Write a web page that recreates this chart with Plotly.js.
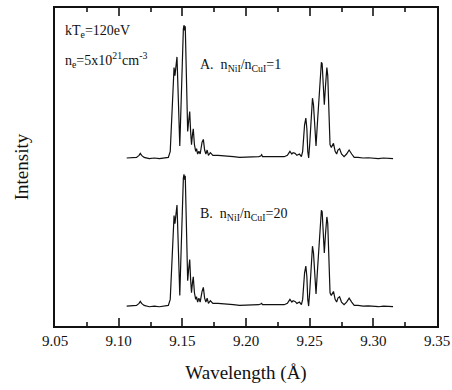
<!DOCTYPE html>
<html>
<head>
<meta charset="utf-8">
<script src="https://cdn.plot.ly/plotly-3.0.1.min.js"></script>
<style>html,body{margin:0;padding:0;background:#fff;}#chart{width:452px;height:390px;}.modebar-container{display:none !important;}</style>
</head>
<body>
<div id="chart"></div>
<script>
// Wavelength (Å) and relative intensity for spectrum A (nNiI/nCuI = 1)
const wlA = [9.1063,9.110,9.114,9.116,9.117,9.118,9.120,9.124,9.128,9.132,9.136,9.139,
 9.1405,9.1415,9.1425,9.1435,9.1442,9.1450,9.1458,9.1465,9.1472,9.1480,9.1490,9.1500,
 9.1508,9.1513,9.1518,9.1523,9.1530,9.1537,9.1542,9.1550,9.1558,9.1565,9.1572,9.1580,
 9.1586,9.1595,9.1605,9.1612,9.1620,9.1630,9.1640,9.1655,9.1665,9.1675,9.1685,9.1695,
 9.1705,9.172,9.174,9.178,9.182,9.186,9.190,9.195,9.200,9.205,9.210,9.2115,9.2123,9.213,
 9.218,9.222,9.226,9.230,9.2325,9.2345,9.2360,9.2370,9.2385,9.2400,9.2420,9.2435,9.2445,
 9.2460,9.2470,9.2478,9.2485,9.2492,9.2500,9.2512,9.2522,9.2530,9.2540,9.2550,9.2560,
 9.2572,9.2582,9.2592,9.2598,9.2606,9.2615,9.2625,9.2635,9.2642,9.2650,9.2660,9.2670,
 9.2687,9.2700,9.2712,9.2722,9.2735,9.2750,9.2770,9.2790,9.2810,9.2830,9.2850,9.288,
 9.292,9.296,9.300,9.304,9.308,9.312,9.3155];
const intA = [0.00,0.00,0.005,0.02,0.035,0.02,0.005,-0.005,0.0,-0.005,0.0,0.005,
 0.05,0.30,0.55,0.68,0.62,0.70,0.76,0.55,0.20,0.09,0.40,0.85,
 0.97,1.00,0.96,0.99,0.75,0.35,0.20,0.28,0.35,0.20,0.10,0.18,
 0.22,0.10,0.05,0.07,0.03,0.05,0.03,0.12,0.14,0.06,0.03,0.06,
 0.02,0.04,0.02,0.02,0.015,0.01,0.01,0.005,0.005,0.01,0.01,0.015,0.025,0.01,
 0.01,0.01,0.01,0.01,0.02,0.05,0.03,0.04,0.035,0.02,0.03,0.01,0.05,
 0.25,0.30,0.22,0.05,0.0,0.10,0.35,0.45,0.40,0.20,0.09,0.25,
 0.45,0.60,0.72,0.71,0.55,0.40,0.55,0.68,0.62,0.35,0.10,0.08,
 0.11,0.05,0.03,0.06,0.07,0.03,0.01,0.03,0.06,0.03,0.005,0.005,
 0.0,0.002,0.0,-0.005,0.0,-0.005,-0.005];

// Spectrum B (nNiI/nCuI = 20)
const wlB = [9.1063,9.110,9.114,9.116,9.117,9.118,9.120,9.124,9.128,9.132,9.136,9.139,
 9.1405,9.1415,9.1425,9.1435,9.1442,9.1450,9.1458,9.1465,9.1472,9.1480,9.1490,9.1500,
 9.1508,9.1513,9.1518,9.1523,9.1530,9.1537,9.1542,9.1550,9.1558,9.1565,9.1572,9.1580,
 9.1586,9.1595,9.1605,9.1612,9.1620,9.1630,9.1640,9.1655,9.1665,9.1675,9.1685,9.1695,
 9.1705,9.172,9.174,9.178,9.182,9.186,9.190,9.195,9.200,9.205,9.210,9.2115,9.2123,9.213,
 9.218,9.222,9.226,9.230,9.2325,9.2345,9.2360,9.2370,9.2385,9.2400,9.2420,9.2435,9.2445,
 9.2460,9.2470,9.2478,9.2485,9.2492,9.2500,9.2512,9.2522,9.2530,9.2540,9.2550,9.2560,
 9.2572,9.2582,9.2592,9.2598,9.2606,9.2615,9.2625,9.2635,9.2642,9.2650,9.2660,9.2670,
 9.2687,9.2700,9.2712,9.2722,9.2735,9.2750,9.2770,9.2790,9.2810,9.2830,9.2850,9.288,
 9.292,9.296,9.300,9.304,9.308,9.312,9.3155];
const intB = [0.00,0.00,0.005,0.02,0.035,0.02,0.005,-0.005,0.0,-0.005,0.0,0.005,
 0.05,0.30,0.55,0.68,0.62,0.70,0.76,0.55,0.20,0.08,0.40,0.85,
 0.96,0.99,0.95,0.98,0.75,0.35,0.19,0.28,0.35,0.20,0.10,0.18,
 0.22,0.10,0.05,0.07,0.03,0.06,0.03,0.11,0.14,0.06,0.03,0.06,
 0.02,0.04,0.02,0.02,0.015,0.01,0.01,0.005,0.005,0.01,0.01,0.015,0.02,0.01,
 0.01,0.01,0.01,0.01,0.02,0.05,0.03,0.04,0.035,0.02,0.03,0.01,0.05,
 0.25,0.30,0.22,0.05,0.0,0.10,0.35,0.45,0.40,0.20,0.09,0.25,
 0.45,0.60,0.72,0.71,0.55,0.40,0.55,0.67,0.62,0.35,0.10,0.08,
 0.11,0.05,0.03,0.06,0.07,0.03,0.01,0.03,0.06,0.03,0.005,0.005,
 0.0,0.002,0.0,-0.005,0.0,-0.005,-0.005];

const offsetA = 1.113; // vertical offset of spectrum A above spectrum B
const xTicks = [9.05,9.10,9.15,9.20,9.25,9.30,9.35];
const xTickText = ["9.05","9.10","9.15","9.20","9.25","9.30","9.35"];

const serif = "Liberation Serif";
const traces = [
  {x: wlA, y: intA.map(v => v + offsetA), type: 'scatter', mode: 'lines',
   line: {color: '#111', width: 1.2}},
  {x: wlB, y: intB, type: 'scatter', mode: 'lines',
   line: {color: '#111', width: 1.2}}
];

const layout = {
  width: 452, height: 390,
  margin: {l: 55, r: 15, t: 8, b: 64},
  paper_bgcolor: '#fff', plot_bgcolor: '#fff',
  showlegend: false,
  font: {family: serif, color: '#111', size: 14},
  xaxis: {
    range: [9.05, 9.35], tickvals: xTicks, ticktext: xTickText,
    ticks: 'inside', ticklen: 8, tickwidth: 2, tickcolor: '#444',
    showline: true, linecolor: '#111', linewidth: 1.5, mirror: 'allticks',
    showgrid: false, zeroline: false,
    minor: {dtick: 0.025, tick0: 9.05, ticks: 'inside', ticklen: 4, tickcolor: '#444', tickwidth: 2},
    tickfont: {family: serif, size: 15, color: '#111'},
    title: {text: 'Wavelength (Å)', font: {family: serif, size: 19, color: '#111'}, standoff: 18}
  },
  yaxis: {
    range: [-0.15, 2.241], showticklabels: false, ticks: '',
    showline: true, linecolor: '#111', linewidth: 1.5, mirror: true,
    showgrid: false, zeroline: false,
    title: {text: 'Intensity', font: {family: serif, size: 19, color: '#111'}, standoff: 20}
  },
  annotations: [
    {xref: 'paper', yref: 'paper', x: 0.02, y: 0.925, xanchor: 'left', yanchor: 'middle',
     text: 'kT<sub>e</sub>=120eV', showarrow: false, font: {family: serif, size: 14, color: '#111'}},
    {xref: 'paper', yref: 'paper', x: 0.02, y: 0.835, xanchor: 'left', yanchor: 'middle',
     text: 'n<sub>e</sub>=5x10<sup>21</sup>cm<sup>-3</sup>', showarrow: false, font: {family: serif, size: 14, color: '#111'}},
    {xref: 'paper', yref: 'paper', x: 0.375, y: 0.82, xanchor: 'left', yanchor: 'middle',
     text: 'A.  n<sub>NiI</sub>/n<sub>CuI</sub>=1', showarrow: false, font: {family: serif, size: 14, color: '#111'}},
    {xref: 'paper', yref: 'paper', x: 0.375, y: 0.35, xanchor: 'left', yanchor: 'middle',
     text: 'B.  n<sub>NiI</sub>/n<sub>CuI</sub>=20', showarrow: false, font: {family: serif, size: 14, color: '#111'}}
  ]
};

Plotly.newPlot('chart', traces, layout);
</script>
</body>
</html>
